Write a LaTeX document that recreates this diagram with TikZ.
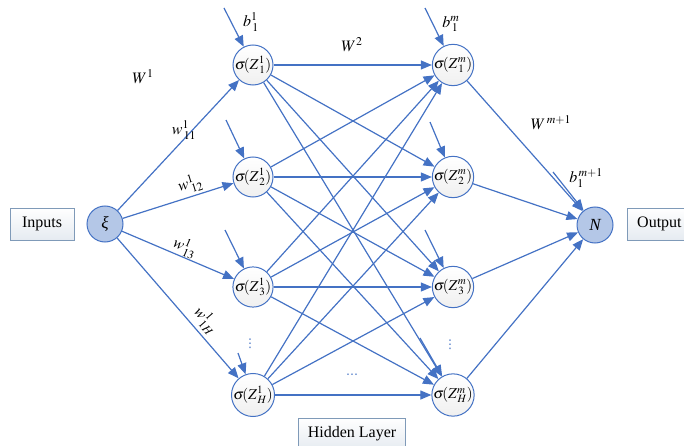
\documentclass[tikz,border=0pt]{standalone}
\usepackage{mathptmx}
\usepackage{fontspec}
\setmainfont{Liberation Serif}
\newfontfamily\symfont{DejaVu Sans}
\usetikzlibrary{arrows.meta,positioning,calc}

\definecolor{netblue}{HTML}{4472C4}
\definecolor{nodefill}{HTML}{B4C7E7}
\definecolor{boxline}{HTML}{7F9AB8}

\tikzset{
  conn/.style={draw=netblue, line width=1.2pt, -{Triangle[length=11pt,width=9pt]}},
  neuron/.style={circle, draw=netblue, line width=1pt, minimum size=36pt, inner sep=0pt,
    top color=white, bottom color=gray!12, font=\fontsize{15}{17}\selectfont},
  endpt/.style={circle, draw=netblue, line width=1pt, minimum size=36pt, inner sep=0pt,
    fill=nodefill, font=\fontsize{17}{19}\selectfont\itshape},
  iobox/.style={draw=boxline, line width=0.9pt, top color=white, bottom color=boxline!20,
    minimum width=64pt, minimum height=32pt, inner sep=0pt, font=\fontsize{16}{18}\selectfont},
  wlab/.style={font=\fontsize{16}{18}\selectfont, inner sep=0pt},
  dotlab/.style={text=netblue, font=\symfont\fontsize{12}{14}\selectfont, inner sep=0pt}
}

\begin{document}
\begin{tikzpicture}[x=1pt,y=-1pt]
  \clip (0,0) rectangle (684,446);
  \useasboundingbox (0,0) rectangle (684,446);

  % input and output
  \node[iobox] (inp) at (42,224) {Inputs};
  \node[endpt] (xi) at (105,224) {ξ};
  \node[endpt] (out) at (595,225) {N};
  \node[iobox, anchor=west] (outp) at (627,224) {Output};
  \node[iobox, minimum width=107pt] (hid) at (352,434) {Hidden Layer};

  % hidden layers
  \foreach \i/\y in {1/65,2/177,3/287,H/395} {
    \node[neuron] (a\i) at (253,\y) {$\sigma\!(Z^{1}_{\,\i})$};
    \node[neuron] (b\i) at (453,\y) {$\sigma\!(Z^{m}_{\,\i})$};
  }

  % connections
  \foreach \i in {1,2,3,H} {
    \draw[conn] (xi) -- (a\i);
    \draw[conn] (b\i) -- (out);
    \foreach \j in {1,2,3,H}
      \draw[conn] (a\i) -- (b\j);
  }

  % biases
  \coordinate (ba1) at (224,8);
  \coordinate (ba2) at (226,120);
  \coordinate (ba3) at (225,230);
  \coordinate (baH) at (238,353);
  \coordinate (bb1) at (425,8);
  \coordinate (bb2) at (430,122);
  \coordinate (bb3) at (425,230);
  \coordinate (bbH) at (420,338);
  \coordinate (bn) at (553,172);
  \foreach \i in {1,2,3,H} {
    \draw[conn] (ba\i) -- (a\i);
    \draw[conn] (bb\i) -- (b\i);
  }
  \draw[conn] (bn) -- (out);

  % labels
  \node[wlab] (lb1) at (251,22) {$b^{1}_{\,1}$};
  \node[wlab] (lbm) at (451,24) {$b^{m}_{\,1}$};
  \node[wlab] (lbn) at (586,178) {$b_{1}^{\,m+1}$};
  \node[wlab] (lw1) at (143,77) {$W^{1}$};
  \node[wlab] (lw2) at (352,45) {$W^{2}$};
  \node[wlab] (lwm) at (551,123) {$W^{\,m+1}$};
  \node[wlab] (w11) at (184,130) {$w^{1}_{\,11}$};
  \node[wlab, rotate=17] (w12) at (190,184) {$w^{1}_{\,12}$};
  \node[wlab, rotate=-23] (w13) at (185,247) {$w^{1}_{\,13}$};
  \node[wlab, rotate=-49] (w1H) at (206,320) {$w^{1}_{\,1H}$};

  % dots
  \node[dotlab] (vd1) at (250,344) {⋮};
  \node[dotlab] (vd2) at (450,345) {⋮};
  \node[dotlab] (hd) at (352,376) {⋯};
\end{tikzpicture}
\end{document}
